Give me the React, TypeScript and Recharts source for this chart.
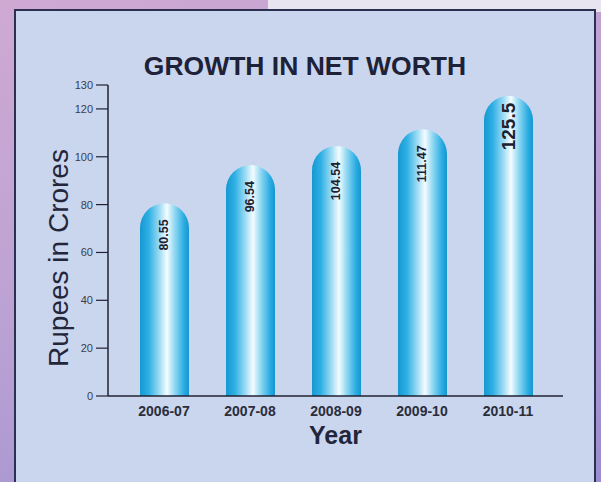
import React from "react";
import { BarChart, Bar, XAxis, YAxis, LabelList, Label } from "recharts";

const years = ["2006-07", "2007-08", "2008-09", "2009-10", "2010-11"];
const netWorth = [80.55, 96.54, 104.54, 111.47, 125.5];
const valueLabels = ["80.55", "96.54", "104.54", "111.47", "125.5"];
const yTicks = [0, 20, 40, 60, 80, 100, 120, 130];

const data = years.map((y, i) => ({ year: y, value: netWorth[i], label: valueLabels[i] }));

const FONT = "'Liberation Sans', Arial, Helvetica, sans-serif";

const renderValue = (props: any) => {
  const { x, y, width, index } = props;
  const cx = x + width / 2;
  const big = index === valueLabels.length - 1;
  const ty = y + (big ? 7 : 16);
  return (
    <text
      x={cx}
      y={ty}
      transform={`rotate(-90 ${cx} ${ty})`}
      textAnchor="end"
      dominantBaseline="central"
      fontFamily={FONT}
      fontWeight="bold"
      fontSize={big ? 19 : 12.5}
      fill="#1c2030"
    >
      {valueLabels[index]}
    </text>
  );
};

export default function App() {
  return (
    <div
      style={{
        position: "fixed",
        left: 0,
        top: 0,
        width: 601,
        height: 482,
        overflow: "hidden",
        background: "linear-gradient(160deg, #cfa9d2 0%, #bca2d4 45%, #9a8ed0 100%)",
      }}
    >
      <div
        style={{
          position: "absolute",
          left: 268,
          top: 0,
          width: 340,
          height: 12,
          background: "#e8e5f1",
        }}
      />
      <div
        style={{
          position: "absolute",
          left: 14,
          top: 9,
          width: 582,
          height: 490,
          background: "#cad6ee",
          border: "2px solid #2b3050",
          boxSizing: "border-box",
        }}
      />
      <div style={{ position: "absolute", left: 0, top: 0 }}>
        <BarChart
          width={601}
          height={482}
          data={data}
          margin={{ top: 85, right: 38, bottom: 0, left: 0 }}
          barSize={49}
        >
          <defs>
            <linearGradient id="barGrad" x1="0" y1="0" x2="1" y2="0">
              <stop offset="0%" stopColor="#1597d2" />
              <stop offset="18%" stopColor="#2fb0e4" />
              <stop offset="40%" stopColor="#9fdcf4" />
              <stop offset="55%" stopColor="#f4fcff" />
              <stop offset="72%" stopColor="#8ad5f1" />
              <stop offset="90%" stopColor="#29ace2" />
              <stop offset="100%" stopColor="#1696d0" />
            </linearGradient>
          </defs>
          <text
            x={305}
            y={66}
            textAnchor="middle"
            dominantBaseline="central"
            fontFamily={FONT}
            fontWeight="bold"
            fontSize={26.5}
            fill="#1d2238"
          >
            GROWTH IN NET WORTH
          </text>
          <text
            x={58}
            y={258}
            transform="rotate(-90 58 258)"
            textAnchor="middle"
            dominantBaseline="central"
            fontFamily={FONT}
            fontSize={28}
            fill="#23263a"
          >
            Rupees in Crores
          </text>
          <XAxis
            dataKey="year"
            height={86}
            tickLine={false}
            axisLine={{ stroke: "#1f2233", strokeWidth: 1.5 }}
            padding={{ left: 13, right: 12 }}
            tick={{ fontFamily: FONT, fontSize: 14, fontWeight: "bold", fill: "#2a2d3a" }}
            tickMargin={4}
          >
            <Label
              value="Year"
              position="insideTop"
              offset={30}
              style={{ fontFamily: FONT, fontSize: 25, fontWeight: "bold", fill: "#23263a" }}
            />
          </XAxis>
          <YAxis
            width={108}
            domain={[0, 130]}
            ticks={yTicks}
            interval={0}
            tickSize={12}
            tickMargin={3}
            axisLine={{ stroke: "#1f2233", strokeWidth: 1.5 }}
            tickLine={{ stroke: "#1f2233", strokeWidth: 1.2 }}
            tick={{ fontFamily: FONT, fontSize: 11, fill: "#3a3d4a" }}
          />
          <Bar
            dataKey="value"
            fill="url(#barGrad)"
            radius={[25, 25, 0, 0]}
            isAnimationActive={false}
          >
            <LabelList dataKey="value" content={renderValue} />
          </Bar>
        </BarChart>
      </div>
    </div>
  );
}
